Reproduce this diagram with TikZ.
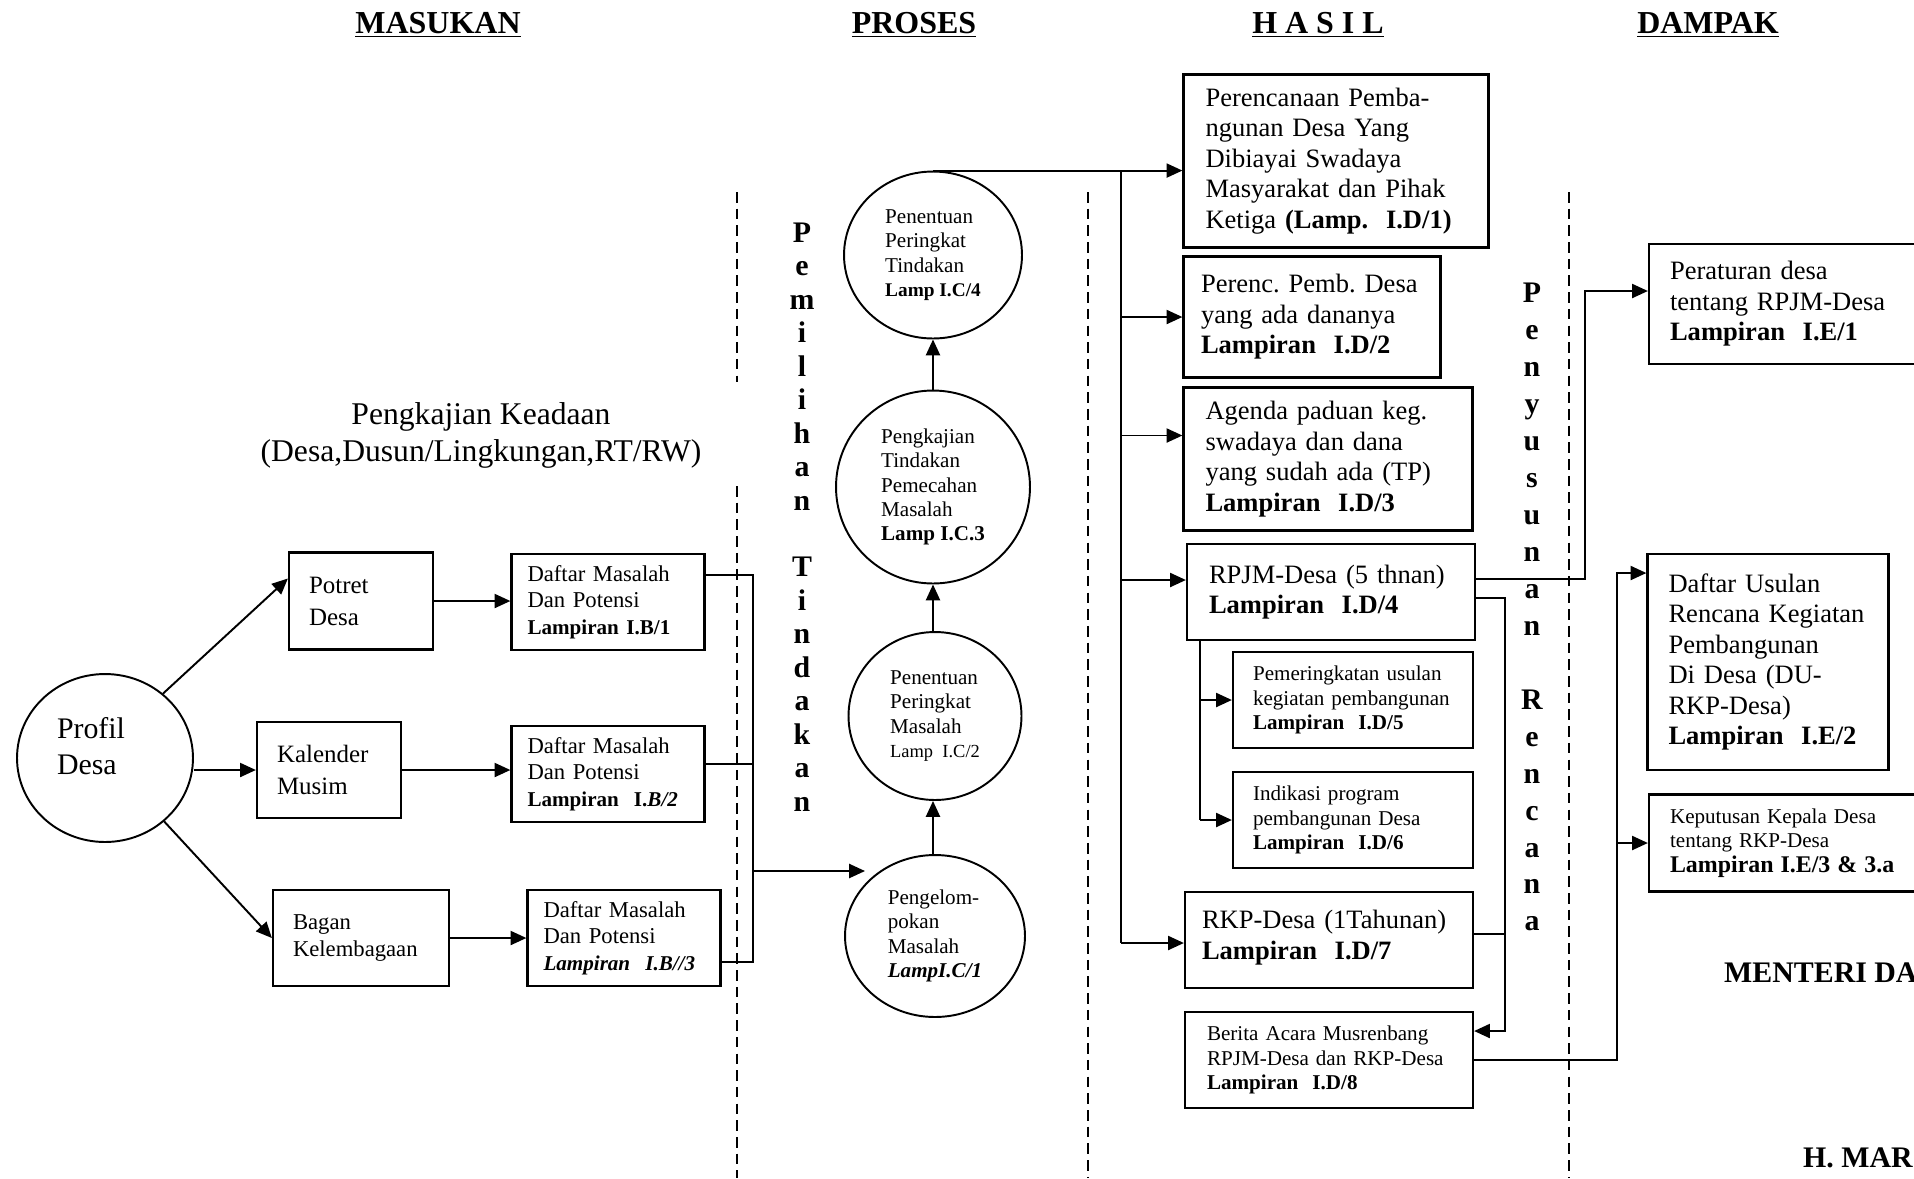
\documentclass[tikz,border=0pt]{standalone}
\usepackage{fontspec}
\setmainfont{Liberation Serif}
\usepackage{tikz}
\usetikzlibrary{arrows.meta,shapes.geometric}
\frenchspacing

\newcommand\fbesar{\fontsize{17}{21}\selectfont}
\newcommand\fsedang{\fontsize{14.2}{18.2}\selectfont}
\newcommand\fkecil{\fontsize{12.9}{15}\selectfont}
\newcommand\felips{\fontsize{12}{13.9}\selectfont}
\newcommand\fhasil{\fontsize{15.1}{17.4}\selectfont}
\newcommand\fhasilk{\fontsize{12}{14}\selectfont}

\tikzset{
  kotak/.style={draw, line width=1.3pt, align=left, inner ysep=0pt, minimum height=1.92cm},
  lingkar/.style={draw, ellipse, line width=1.1pt, align=left, inner sep=0pt, font=\felips},
  panah/.style={-{Triangle[length=9pt,width=8pt]}, line width=1.1pt},
  jalur/.style={line width=1.1pt},
  garis/.style={line width=0.8pt},
  batas/.style={line width=0.9pt, dash pattern=on 6pt off 3.5pt},
  judul/.style={font=\fontsize{18.2}{21}\selectfont\bfseries},
  huruf/.style={align=center, inner sep=0pt}
}

\begin{document}
\begin{tikzpicture}[x=0.02cm,y=-0.02cm]
\useasboundingbox (0,0) rectangle (1914,1178);
\clip (0,0) rectangle (1914,1178);

% judul kolom
\node [judul] (jmasukan) at (438,25) {\underline{MASUKAN}};
\node [judul] (jproses) at (914,25) {\underline{PROSES}};
\node [judul] (jhasil) at (1318,25) {\underline{H A S I L}};
\node [judul] (jdampak) at (1708,25) {\underline{DAMPAK}};

% garis batas kolom
\draw [batas] (737,192) -- (737,382);
\draw [batas] (737,486) -- (737,1178);
\draw [batas] (1088,192) -- (1088,1178);
\draw [batas] (1569,192) -- (1569,1178);

% masukan
\node [align=center, font=\fontsize{18}{21}\selectfont] (pengkajian) at (481,435) {Pengkajian Keadaan\\(Desa,Dusun/Lingkungan,RT/RW)};
\node [lingkar, minimum width=3.52cm, minimum height=3.36cm, text width=1.92cm, font=\fbesar] (profil) at (105,758) {Profil\\Desa\rule[-0.48cm]{0pt}{1pt}};
\node [kotak, text width=2.08cm, inner xsep=0.4cm, minimum height=1.94cm, font=\fsedang] (potret) at (361,601) {Potret\\Desa};
\node [kotak, text width=2.08cm, inner xsep=0.4cm, font=\fsedang] (kalender) at (329,770) {Kalender\\Musim};
\node [kotak, text width=2.72cm, inner xsep=0.4cm, font=\fkecil] (bagan) at (361,938) {Bagan\\Kelembagaan};
\node [kotak, text width=3.22cm, inner xsep=0.32cm, font=\fkecil] (daftar1) at (608,602) {Daftar Masalah\\Dan Potensi\\{\fontsize{12}{15}\selectfont\textbf{Lampiran I.B/1}}};
\node [kotak, text width=3.22cm, inner xsep=0.32cm, font=\fkecil] (daftar2) at (608,774) {Daftar Masalah\\Dan Potensi\\{\fontsize{12}{15}\selectfont\textbf{Lampiran\ \ I.\textit{B/2}}}};
\node [kotak, text width=3.22cm, inner xsep=0.32cm, font=\fkecil] (daftar3) at (624,938) {Daftar Masalah\\Dan Potensi\\{\fontsize{12}{15}\selectfont\textbf{\textit{Lampiran\ \ I.B//3}}}};

\coordinate (potretin) at ([yshift=0.45cm]potret.west);
\draw [panah] (profil.48) -- (potretin);
\draw [panah] (kalender.west -| profil.east) -- (kalender.west);
\draw [panah] (profil.-47) -- (bagan.west);
\draw [panah] (potret.east) -- (potret.east -| daftar1.west);
\draw [panah] (kalender.east) -- (kalender.east -| daftar2.west);
\draw [panah] (bagan.east) -- (daftar3.west);

% kumpulan daftar masalah
\coordinate (kol1) at (753,575);
\coordinate (kol2) at (753,764);
\coordinate (kol3) at (753,962);
\coordinate (kol4) at (753,871);
\coordinate (masuk1) at (865,871);
\draw [garis] (daftar1.east |- kol1) -- (kol1) -- (kol3) -- (daftar3.east |- kol3);
\draw [garis] (daftar2.east |- kol2) -- (kol2);
\draw [panah] (kol4) -- (masuk1);

% proses
\node [huruf, font=\fontsize{17}{19.06}\selectfont\bfseries] (pemilihan) at (802,517) {P\\e\\m\\i\\l\\i\\h\\a\\n\\[19pt]T\\i\\n\\d\\a\\k\\a\\n};
\node [lingkar, minimum width=3.6cm, minimum height=3.24cm] (proses1) at (935,936) {Pengelom-\\pokan\\Masalah\\\textbf{\textit{LampI.C/1}}};
\node [lingkar, minimum width=3.46cm, minimum height=3.36cm] (proses2) at (935,716) {Penentuan\\Peringkat\\Masalah\\{\fontsize{10.5}{13.9}\selectfont Lamp\ \ I.C/2}};
\node [lingkar, minimum width=3.88cm, minimum height=3.86cm] (proses3) at (933,487) {Pengkajian\\Tindakan\\Pemecahan\\Masalah\\\textbf{Lamp I.C.3}};
\node [lingkar, minimum width=3.56cm, minimum height=3.34cm] (proses4) at (933,255) {Penentuan\\Peringkat\\Tindakan\\{\fontsize{11}{13.9}\selectfont\textbf{Lamp I.C/4}}};
\draw [panah] (proses1.north -| proses3.south) -- (proses2.south -| proses3.south);
\draw [panah] (proses2.north -| proses3.south) -- (proses3.south);
\draw [panah] (proses3.north) -- (proses4.south);

% hasil
\node [kotak, text width=5.22cm, inner xsep=0.44cm, minimum height=3.46cm, font=\fhasil] (hasil1) at (1336,161) {Perencanaan Pemba-\\ngunan Desa Yang\\Dibiayai Swadaya\\Masyarakat dan Pihak\\Ketiga \textbf{(Lamp.\ \ I.D/1)}};
\node [kotak, text width=4.44cm, inner xsep=0.35cm, minimum height=2.42cm, font=\fhasil] (hasil2) at (1312,317) {Perenc. Pemb. Desa\\yang ada dananya\\\textbf{Lampiran\ \ I.D/2}};
\node [kotak, text width=4.9cm, inner xsep=0.44cm, minimum height=2.86cm, font=\fhasil] (hasil3) at (1328,459) {Agenda paduan keg.\\swadaya dan dana\\yang sudah ada (TP)\\\textbf{Lampiran\ \ I.D/3}};
\node [kotak, text width=4.88cm, inner xsep=0.44cm, font=\fhasil] (hasil4) at (1331,592) {RPJM-Desa (5 thnan)\\\textbf{Lampiran\ \ I.D/4}};
\node [kotak, text width=4cm, inner xsep=0.4cm, font=\fhasilk] (hasil5) at (1353,700) {Pemeringkatan usulan\\kegiatan pembangunan\\\textbf{Lampiran\ \ I.D/5}};
\node [kotak, text width=4cm, inner xsep=0.4cm, font=\fhasilk] (hasil6) at (1353,820) {Indikasi program\\pembangunan Desa\\\textbf{Lampiran\ \ I.D/6}};
\node [kotak, text width=5.08cm, inner xsep=0.34cm, font=\fhasil] (hasil7) at (1329,940) {RKP-Desa (1Tahunan)\\\textbf{Lampiran\ \ I.D/7}\rule[-0.2cm]{0pt}{1pt}};
\node [kotak, text width=4.88cm, inner xsep=0.44cm, font=\fhasilk] (hasil8) at (1329,1060) {Berita Acara Musrenbang\\RPJM-Desa dan RKP-Desa\\\textbf{Lampiran\ \ I.D/8}};
\node [huruf, font=\fontsize{17}{21.05}\selectfont\bfseries] (penyusunan) at (1532,607) {P\\e\\n\\y\\u\\s\\u\\n\\a\\n\\[21pt]R\\e\\n\\c\\a\\n\\a};

% bus ke hasil
\coordinate (bus1) at (1121,172);
\coordinate (bus2) at (1121,943);
\coordinate (h3in) at ([yshift=0.47cm]hasil3.west);
\coordinate (h4in) at ([yshift=0.24cm]hasil4.west);
\draw [jalur] (bus1) -- (bus2);
\draw [panah] (proses4.north) -- (proses4.north -| hasil1.west);
\draw [panah] (bus1 |- hasil2.west) -- (hasil2.west);
\draw [panah] (bus1 |- h3in) -- (h3in);
\draw [panah] (bus1 |- h4in) -- (h4in);
\draw [panah] (bus2) -- (bus2 -| hasil7.west);

\coordinate (rpjm1) at ([xshift=0.28cm]hasil4.south west);
\draw [jalur] (rpjm1) -- (rpjm1 |- hasil6.west);
\draw [panah] (rpjm1 |- hasil5.west) -- (hasil5.west);
\draw [panah] (rpjm1 |- hasil6.west) -- (hasil6.west);

% dampak
\node [kotak, text width=4.96cm, inner xsep=0.42cm, minimum height=2.4cm, font=\fhasil] (dampak1) at (1794,304) {Peraturan desa\\tentang RPJM-Desa\\\textbf{Lampiran\ \ I.E/1}};
\node [kotak, text width=3.98cm, inner xsep=0.42cm, minimum height=4.32cm, font=\fhasil] (dampak2) at (1768,662) {Daftar Usulan\\Rencana Kegiatan\\Pembangunan\\Di Desa (DU-\\RKP-Desa)\\\textbf{Lampiran\ \ I.E/2}};
\node [kotak, text width=4.96cm, inner xsep=0.42cm, minimum height=1.94cm, font=\fhasilk] (dampak3) at (1794,843) {Keputusan Kepala Desa\\tentang RKP-Desa\\{\fontsize{13.6}{14}\selectfont\textbf{Lampiran I.E/3 \& 3.a}}};

\coordinate (rpjm2) at ([yshift=0.26cm]hasil4.east);
\coordinate (rpjm3) at ([yshift=-0.12cm]hasil4.east);
\coordinate (rkp1) at ([yshift=0.12cm]hasil7.east);
\coordinate (d1in) at ([yshift=0.26cm]dampak1.west);
\coordinate (d2in) at ([yshift=1.78cm]dampak2.west);
\coordinate (b8in) at ([yshift=0.58cm]hasil8.east);
\coordinate (tekuk1) at (1585,291);
\coordinate (tekuk2) at (1505,1031);
\coordinate (tekuk3) at (1617,573);
\draw [panah] (rpjm2) -| (tekuk1) -- (d1in);
\draw [panah] (rpjm3) -| (tekuk2) -- (b8in);
\draw [garis] (rkp1) -- (rkp1 -| tekuk2);
\draw [panah] (hasil8.east) -| (tekuk3) -- (d2in);
\draw [panah] (tekuk3 |- dampak3.west) -- (dampak3.west);

\node [anchor=base west, font=\fontsize{17}{20}\selectfont\bfseries] (menteri) at (1718,982) {MENTERI DA};
\node [anchor=base west, font=\fontsize{17}{20}\selectfont\bfseries] (nama) at (1797,1167) {H. MAR};

\end{tikzpicture}
\end{document}
